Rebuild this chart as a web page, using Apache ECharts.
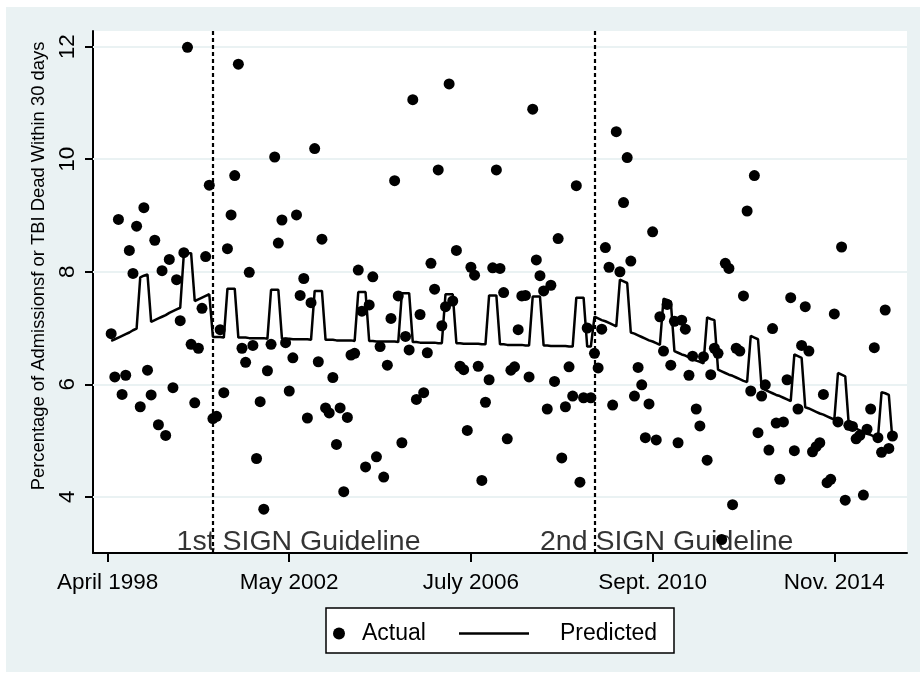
<!DOCTYPE html>
<html><head><meta charset="utf-8">
<script src="https://cdn.jsdelivr.net/npm/echarts@6/dist/echarts.min.js"></script>
<style>html,body{margin:0;padding:0;background:#fff}#c{width:920px;height:677px}</style>
</head><body><div id="c"></div>
<script>
// Month index 1 = April 1998 ... 216 = March 2016
const actual = [
6.90,6.13,8.93,5.82,6.16,8.38,7.97,8.81,5.60,9.14,6.25,5.81,8.56,5.28,8.02,5.09,8.22,5.94,7.86,7.13,
8.34,11.99,6.71,5.67,6.64,7.35,8.27,9.54,5.39,5.43,6.97,5.85,8.41,9.01,9.71,11.69,6.64,6.39,7.99,6.69,
4.68,5.69,3.78,6.24,6.71,10.04,8.51,8.92,6.74,5.88,6.47,9.01,7.58,7.88,5.40,7.45,10.19,6.40,8.58,5.58,
5.49,6.12,4.93,5.58,4.09,5.41,6.52,6.55,8.03,7.30,4.53,7.41,7.91,4.71,6.67,4.35,6.34,7.17,9.62,7.57,
4.96,6.85,6.61,11.06,5.73,7.24,5.85,6.56,8.15,7.69,9.81,7.04,7.38,11.34,7.48,8.38,6.32,6.26,5.18,8.08,
7.94,6.32,4.29,5.68,6.08,8.07,9.81,8.06,7.63,5.03,6.25,6.31,6.97,7.57,7.58,6.13,10.89,8.21,7.93,7.66,
5.56,7.76,6.05,8.59,4.69,5.60,6.31,5.79,9.53,4.26,5.76,7.00,5.76,6.55,6.29,6.98,8.43,8.08,5.63,10.49,
8.00,9.23,10.03,8.19,5.79,6.30,5.99,5.05,5.65,8.71,5.01,7.20,6.59,7.42,6.34,7.12,4.96,7.14,6.98,6.16,
6.50,5.56,5.26,6.49,4.65,6.17,6.64,6.55,3.24,8.15,8.06,3.86,6.64,6.59,7.57,9.08,5.88,9.71,5.14,5.79,
5.99,4.83,6.99,5.31,4.31,5.33,6.08,7.54,4.82,5.56,6.69,7.38,6.59,4.80,4.89,4.96,5.82,4.25,4.31,7.25,
5.33,8.44,3.94,5.27,5.25,5.03,5.09,4.03,5.20,5.56,6.65,5.05,4.79,7.32,4.86,5.08
];
const predicted = [
6.77,6.80,6.83,6.86,6.89,6.92,6.96,6.99,7.90,7.93,7.95,7.11,7.14,7.17,7.20,7.23,7.27,7.30,7.33,7.36,
8.32,8.33,8.33,7.48,7.51,7.54,7.57,7.60,
6.84,6.84,6.84,6.83,7.70,7.70,7.70,6.83,6.83,6.83,6.82,6.82,6.82,6.82,6.82,6.81,7.68,7.68,7.68,6.81,
6.81,6.81,6.80,6.80,6.80,6.80,6.80,6.79,7.66,7.66,7.66,6.79,6.79,6.79,6.78,6.78,6.78,6.78,6.78,6.77,
7.64,7.64,7.64,6.77,6.77,6.76,6.76,6.76,6.76,6.76,6.76,6.75,7.62,7.62,7.62,6.75,6.75,6.74,6.74,6.74,
6.74,6.74,6.73,6.73,7.60,7.60,7.60,6.73,6.73,6.72,6.72,6.72,6.72,6.72,6.71,6.71,7.58,7.58,7.58,6.71,
6.71,6.70,6.70,6.70,6.70,6.70,6.69,6.69,7.56,7.56,7.56,6.69,6.69,6.68,6.68,6.68,6.68,6.68,6.67,6.67,
7.54,7.54,7.54,6.67,6.67,
7.20,7.17,7.14,7.12,7.09,7.06,7.03,7.86,7.83,7.80,6.92,6.90,6.87,6.84,6.81,6.78,6.76,6.73,6.70,7.52,
7.50,7.47,6.59,6.56,6.53,6.51,6.48,6.45,6.42,6.40,6.37,7.19,7.16,7.14,6.26,6.23,6.20,6.17,6.15,6.12,
6.09,6.06,6.04,6.86,6.83,6.80,5.93,5.90,5.87,5.84,5.81,5.79,5.76,5.73,5.70,6.53,6.50,6.47,5.59,5.57,
5.54,5.51,5.48,5.46,5.43,5.40,5.37,6.20,6.17,6.14,5.26,5.23,5.21,5.18,5.15,5.12,5.10,5.07,5.04,5.86,
5.84,5.81,5.00
];
const xTickMonths = [0, 50, 100, 150, 200];
const xTickLabels = ['April 1998', 'May 2002', 'July 2006', 'Sept. 2010', 'Nov. 2014'];
const yTicks = [4, 6, 8, 10, 12];
const guidelineMonths = [29, 134];
const guidelineLabels = ['1st SIGN Guideline', '2nd SIGN Guideline'];
const guidelineLabelMonths = [19, 119];
const guidelineLabelLevel = 3.2;

const FONT = '"Liberation Sans", Arial, Helvetica, sans-serif';
const actualData = actual.map((v, i) => [i + 1, v]);
const predictedData = predicted.map((v, i) => [i + 1, v]);
const gridLines = yTicks.map(v => ({ yAxis: v, lineStyle: { color: '#eaf2f3', width: 2, type: 'solid' } }));
const guideLines = guidelineMonths.map(m => ({ xAxis: m, lineStyle: { color: '#000', width: 2.2, type: [4, 3] } }));
const noteData = guidelineLabelMonths.map(m => [m, guidelineLabelLevel]);

const chart = echarts.init(document.getElementById('c'), null, { renderer: 'canvas' });
chart.setOption({
  animation: false,
  backgroundColor: '#ffffff',
  textStyle: { fontFamily: FONT, color: '#000' },
  graphic: [
    { type: 'rect', z: -10, silent: true, shape: { x: 6, y: 7, width: 914, height: 665 }, style: { fill: '#eaf2f3' } },
    { type: 'rect', z: 3, silent: true, shape: { x: 326, y: 608, width: 348, height: 45 }, style: { fill: '#fff', stroke: '#000', lineWidth: 1.5 } }
  ],
  grid: { left: 93, top: 31, right: 13, bottom: 124, show: true, backgroundColor: '#ffffff', borderWidth: 0 },
  legend: [
    { data: [{ name: 'Actual', icon: 'circle', itemStyle: { color: '#000', opacity: 1 } }], left: 333, top: 622, padding: 0,
      itemWidth: 12, itemHeight: 12, selectedMode: false,
      textStyle: { fontFamily: FONT, fontSize: 23, color: '#000', padding: [0, 0, 0, 12] } },
    { data: [{ name: 'Predicted', icon: 'path://M0,0L84,0L84,3L0,3Z', itemStyle: { color: '#000' } }], left: 459, top: 622, padding: 0,
      itemWidth: 84, itemHeight: 2.5, selectedMode: false,
      textStyle: { fontFamily: FONT, fontSize: 23, color: '#000', padding: [0, 0, 0, 19] } }
  ],
  xAxis: {
    type: 'value', min: -4, max: 220,
    axisLine: { show: true, onZero: false, lineStyle: { color: '#000', width: 2 } },
    axisTick: { show: true, customValues: xTickMonths, length: 9, lineStyle: { color: '#000', width: 2 } },
    axisLabel: { customValues: xTickMonths, formatter: v => xTickLabels[xTickMonths.indexOf(v)] || '',
      fontFamily: FONT, fontSize: 22.5, color: '#000', margin: 18 },
    splitLine: { show: false }
  },
  yAxis: {
    type: 'value', min: 3, max: 12.28,
    name: 'Percentage of Admissionsf or TBI Dead Within 30 days',
    nameLocation: 'middle', nameRotate: 90, nameGap: 44,
    nameTextStyle: { fontFamily: FONT, fontSize: 18.4, color: '#000', padding: [0, 0, 0, 52] },
    axisLine: { show: true, onZero: false, lineStyle: { color: '#000', width: 2 } },
    axisTick: { show: true, customValues: yTicks, length: 8, lineStyle: { color: '#000', width: 2 } },
    axisLabel: { customValues: yTicks, rotate: 90, fontFamily: FONT, fontSize: 22.5, color: '#000', margin: 14 },
    splitLine: { show: false }
  },
  series: [
    {
      name: 'Actual', type: 'scatter', data: actualData, symbol: 'circle', symbolSize: 11, z: 4,
      itemStyle: { color: '#000', opacity: 1 }
    },
    {
      name: 'Predicted', type: 'line', data: predictedData, symbol: 'none', showSymbol: false, z: 3,
      lineStyle: { color: '#000', width: 2.5 }, itemStyle: { color: '#000' },
      markLine: { silent: true, z: 1, symbol: ['none', 'none'], label: { show: false },
        data: gridLines.concat(guideLines) }
    },
    {
      name: 'notes', type: 'scatter', data: noteData, symbolSize: 0, z: 5, silent: true,
      label: { show: true, position: 'right', distance: 0, formatter: p => guidelineLabels[p.dataIndex],
        fontFamily: FONT, fontSize: 28.5, color: '#000' }
    }
  ]
});
</script></body></html>
